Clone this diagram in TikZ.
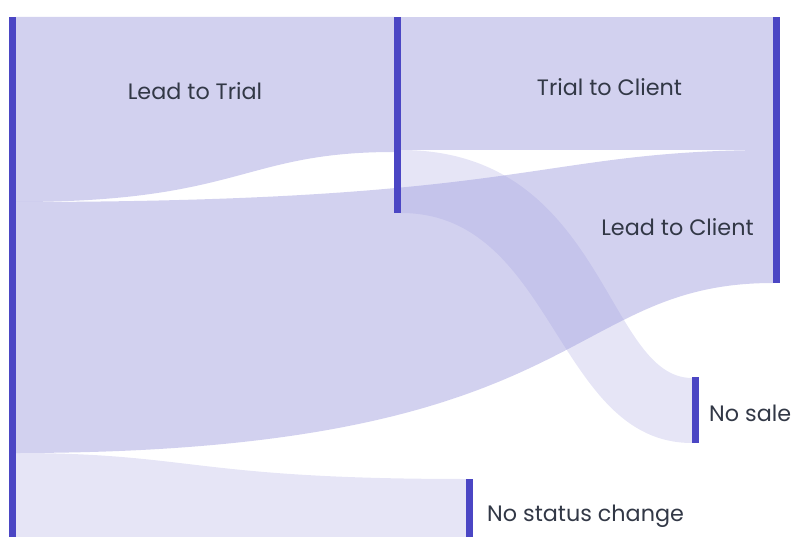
\documentclass[tikz,border=0pt]{standalone}
\usepackage{fontspec}
\setmainfont{Poppins}
\definecolor{barc}{RGB}{75,70,196}
\definecolor{linkc}{RGB}{161,159,222}
\definecolor{txtc}{RGB}{50,56,70}
\tikzset{
  bar/.style={fill=barc, draw=none, inner sep=0pt, minimum width=7pt, anchor=north west, outer sep=0pt},
  linkmain/.style={fill=linkc, fill opacity=0.48, draw=none},
  linklight/.style={fill=linkc, fill opacity=0.267, draw=none},
  lbl/.style={text=txtc, inner sep=0pt, font=\fontsize{22.3}{26}\selectfont}
}
\begin{document}
\begin{tikzpicture}[x=1pt,y=-1pt]
\useasboundingbox (0,0) rectangle (794,537);
% links
\fill[linkmain] (16,17) -- (394,17) -- (394,152) .. controls (242,152) and (242,202) .. (16,202) -- cycle;
\fill[linkmain] (401,17) -- (773,17) -- (773,150) -- (401,150) -- cycle;
\fill[linkmain] (16,202) .. controls (535,202) and (535,150) .. (773,150) -- (773,283) .. controls (560,283) and (590,453) .. (16,453) -- cycle;
\fill[linklight] (401,150) .. controls (605,150) and (605,378) .. (692,378) -- (692,443) .. controls (555,443) and (555,213) .. (401,213) -- cycle;
\fill[linklight] (16,453) .. controls (193,453) and (193,479) .. (466,479) -- (466,537) -- (16,537) -- cycle;
% bars
\node[bar, minimum height=520pt] (lead) at (9,17) {};
\node[bar, minimum height=196pt] (trial) at (394,17) {};
\node[bar, minimum height=266pt] (client) at (773,17) {};
\node[bar, minimum height=66pt] (nosale) at (692,377) {};
\node[bar, minimum height=58pt] (nostatus) at (466,479) {};
% labels
\node[lbl, anchor=base] (l1) at (195,100) {Lead to Trial};
\node[lbl, anchor=base] (l2) at (609.5,96) {Trial to Client};
\node[lbl, anchor=base] (l3) at (677.5,236) {Lead to Client};
\node[lbl, anchor=base west] (l4) at (709,421) {No sale};
\node[lbl, anchor=base west] (l5) at (487,521) {No status change};
\end{tikzpicture}
\end{document}
